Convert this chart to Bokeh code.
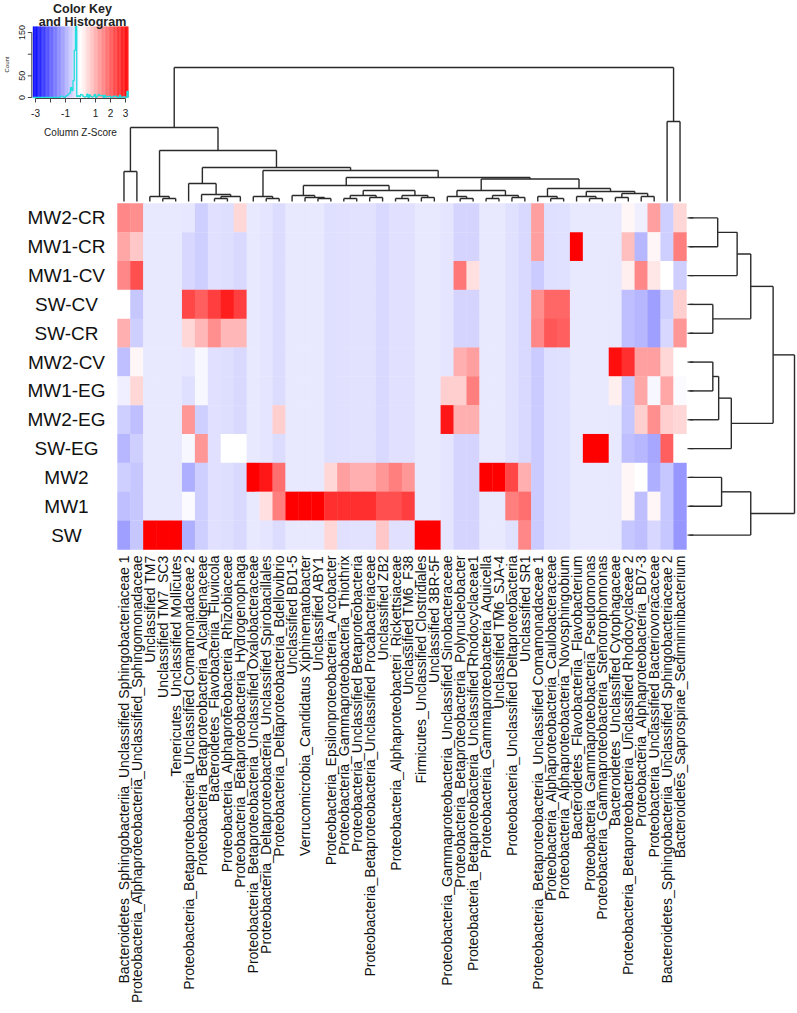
import numpy as np
from bokeh.plotting import figure
from bokeh.models import Range1d
from bokeh.embed import file_html
from bokeh.resources import INLINE
from bokeh.core.properties import value

# ---------------- data ----------------
samples = ["MW2-CR", "MW1-CR", "MW1-CV", "SW-CV", "SW-CR", "MW2-CV",
           "MW1-EG", "MW2-EG", "SW-EG", "MW2", "MW1", "SW"]

taxa = [
    "Bacteroidetes_Sphingobacteriia_Unclassified Sphingobacteriaceae 1",
    "Proteobacteria_Alphaproteobacteria_Unclassified_Sphingomonadaceae",
    "Unclassified TM7",
    "Unclassified TM7_SC3",
    "Tenericutes_Unclassified Mollicutes",
    "Proteobacteria_Betaproteobacteria_Unclassified Comamonadaceae 2",
    "Proteobacteria_Betaproteobacteria_Alcaligenaceae",
    "Bacteroidetes_Flavobacteriia_Fluviicola",
    "Proteobacteria_Alphaproteobacteria_Rhizobiaceae",
    "Proteobacteria_Betaproteobacteria_Hydrogenophaga",
    "Proteobacteria_Betaproteobacteria_Unclassified Oxalobacteraceae",
    "Proteobacteria_Deltaproteobacteria_Unclassified Spirobacillales",
    "Proteobacteria_Deltaproteobacteria_Bdellovibrio",
    "Unclassified BD1-5",
    "Verrucomicrobia_Candidatus Xiphinematobacter",
    "Unclassified ABY1",
    "Proteobacteria_Epsilonproteobacteria_Arcobacter",
    "Proteobacteria_Gammaproteobacteria_Thiothrix",
    "Proteobacteria_Unclassified Betaproteobacteria",
    "Proteobacteria_Betaproteobacteria_Unclassified Procabacteriaceae",
    "Unclassified ZB2",
    "Proteobacteria_Alphaproteobacteri_Rickettsiaceae",
    "Unclassified TM6_F38",
    "Firmicutes_Unclassified Clostridiales",
    "Unclassified 3BR-5F",
    "Proteobacteria_Gammaproteobacteria_Unclassified Sinobacteraceae",
    "Proteobacteria_Betaproteobacteria_Polynucleobacter",
    "Proteobacteria_Betaproteobacteria_Unclassified Rhodocyclaceae1",
    "Proteobacteria_Gammaproteobacteria_Aquicella",
    "Unclassified TM6_SJA-4",
    "Proteobacteria_Unclassified Deltaproteobacteria",
    "Unclassified SR1",
    "Proteobacteria_Betaproteobacteria_Unclassified Comamonadaceae 1",
    "Proteobacteria_Alphaproteobacteria_Caulobacteraceae",
    "Proteobacteria_Alphaproteobacteria_Novosphingobium",
    "Bacteroidetes_Flavobacteriia_Flavobacterium",
    "Proteobacteria_Gammaproteobacteria_Pseudomonas",
    "Proteobacteria_Gammaproteobacteria_Stenotrophomonas",
    "Bacteroidetes_Unclassified Cytophagaceae",
    "Proteobacteria_Betaproteobacteria_Unclassified Rhodocyclaceae 2",
    "Proteobacteria_Alphaproteobacteria_BD7-3",
    "Proteobacteria_Unclassified Bacteriovoracaceae",
    "Bacteroidetes_Sphingobacteriia_Unclassified Sphingobacteriaceae 2",
    "Bacteroidetes_Saprospirae_Sedimininibacterium",
]

# column z-scores, one list per sample row (44 taxa each)
z_MW2_CR = [1.5, 1.4, -0.29, -0.29, -0.29, -0.3, -0.6, -0.38, -0.41, 0.5, -0.29, -0.33, -0.44, -0.29, -0.29, -0.29, -0.4, -0.38, -0.36, -0.36, -0.47, -0.38, -0.37, -0.29, -0.29, -0.32, -0.54, -0.53, -0.29, -0.29, -0.39, -0.48, 1.2, -0.4, -0.39, -0.29, -0.29, -0.29, -0.29, 0.1, -0.2, 1.2, -0.6, 0.5]
z_MW1_CR = [1.1, 0.7, -0.29, -0.29, -0.29, -0.5, -0.6, -0.38, -0.41, -0.47, -0.29, -0.33, -0.44, -0.29, -0.29, -0.29, -0.4, -0.38, -0.36, -0.36, -0.47, -0.38, -0.37, -0.29, -0.29, -0.32, -0.54, -0.53, -0.29, -0.29, -0.39, -0.48, 1.2, -0.4, -0.39, 3.18, -0.29, -0.29, -0.29, 0.8, -0.9, 0.1, -0.6, 1.6]
z_MW1_CV = [1.5, 2.2, -0.29, -0.29, -0.29, -0.5, -0.6, -0.38, -0.41, -0.47, -0.29, -0.33, -0.44, -0.29, -0.29, -0.29, -0.4, -0.38, -0.36, -0.36, -0.47, -0.38, -0.37, -0.29, -0.29, -0.32, 1.7, 0.4, -0.29, -0.29, -0.39, -0.48, -0.65, -0.4, -0.39, -0.29, -0.29, -0.29, -0.29, 0.2, 1.5, 0.3, 0.0, -0.6]
z_SW_CV = [0.0, -0.7, -0.29, -0.29, -0.29, 2.3, 2.0, 2.4, 2.8, 2.4, -0.29, -0.33, -0.44, -0.29, -0.29, -0.29, -0.4, -0.38, -0.36, -0.36, -0.47, -0.38, -0.37, -0.29, -0.29, -0.32, -0.54, -0.53, -0.29, -0.29, -0.39, -0.48, 1.4, 1.9, 1.9, -0.29, -0.29, -0.29, -0.29, -0.8, -0.9, -1.2, -0.6, 0.6]
z_SW_CR = [1.0, -0.6, -0.29, -0.29, -0.29, 0.5, 0.9, 1.4, 0.9, 0.9, -0.29, -0.33, -0.44, -0.29, -0.29, -0.29, -0.4, -0.38, -0.36, -0.36, -0.47, -0.38, -0.37, -0.29, -0.29, -0.32, -0.54, -0.53, -0.29, -0.29, -0.39, -0.48, 1.5, 2.1, 2.0, -0.29, -0.29, -0.29, -0.29, -0.8, -0.9, -1.2, -0.5, 1.3]
z_MW2_CV = [-0.8, 0.1, -0.29, -0.29, -0.29, -0.3, -0.1, -0.38, -0.41, -0.47, -0.29, -0.33, -0.44, -0.29, -0.29, -0.29, -0.4, -0.38, -0.36, -0.36, -0.47, -0.38, -0.37, -0.29, -0.29, -0.32, 1.0, 1.2, -0.29, -0.29, -0.39, -0.48, -0.65, -0.4, -0.39, -0.29, -0.29, -0.29, 3.0, 2.6, 1.2, 1.2, 0.5, 0.0]
z_MW1_EG = [-0.2, 0.5, -0.29, -0.29, -0.29, -0.4, -0.1, -0.38, -0.41, -0.47, -0.29, -0.33, -0.44, -0.29, -0.29, -0.29, -0.4, -0.38, -0.36, -0.36, -0.47, -0.38, -0.37, -0.29, -0.29, 0.6, 0.6, 1.6, -0.29, -0.29, -0.39, -0.48, -0.65, -0.4, -0.39, -0.29, -0.29, -0.29, 0.2, -0.7, 1.1, -0.1, 1.1, -0.05]
z_MW2_EG = [-0.6, -0.8, -0.29, -0.29, -0.29, 1.3, -0.6, -0.38, -0.41, -0.47, -0.29, -0.33, 0.6, -0.29, -0.29, -0.29, -0.4, -0.38, -0.36, -0.36, -0.47, -0.38, -0.37, -0.29, -0.29, 2.9, 1.0, 1.0, -0.29, -0.29, -0.39, -0.48, -0.65, -0.4, -0.39, -0.29, -0.29, -0.29, -0.29, -0.7, 0.6, 1.4, 0.6, 0.5]
z_SW_EG = [-0.9, -0.6, -0.29, -0.29, -0.29, -0.1, 1.3, -0.38, 0.0, 0.0, -0.29, -0.33, -0.44, -0.29, -0.29, -0.29, -0.4, -0.38, -0.36, -0.36, -0.47, -0.38, -0.37, -0.29, -0.29, -0.32, -0.54, -0.53, -0.29, -0.29, -0.39, -0.48, -0.65, -0.4, -0.39, -0.29, 3.18, 3.18, -0.29, -0.8, -0.9, -1.1, 2.0, 0.0]
z_MW2 = [-0.6, -0.7, -0.29, -0.29, -0.29, -1.0, -0.6, -0.38, -0.41, -0.47, 3.18, 2.9, 1.8, -0.29, -0.29, -0.29, 0.5, 1.2, 1.0, 1.0, 1.3, 1.6, 1.3, -0.29, -0.29, -0.32, -0.54, -0.53, 3.18, 3.18, 2.3, 1.0, -0.65, -0.4, -0.39, -0.29, -0.29, -0.29, -0.29, 0.1, 0.0, -1.0, -0.7, -1.3]
z_MW1 = [-0.8, -0.7, -0.29, -0.29, -0.29, -0.05, -0.6, -0.38, -0.41, -0.47, -0.29, 0.4, 1.6, 3.18, 3.18, 3.18, 2.6, 2.6, 2.6, 2.6, 2.2, 2.2, 2.4, -0.29, -0.29, -0.32, -0.54, -0.53, -0.29, -0.29, 1.6, 1.8, -0.65, -0.4, -0.39, -0.29, -0.29, -0.29, -0.29, 0.1, -0.8, 0.1, -0.7, -1.3]
z_SW = [-1.2, -0.7, 3.18, 3.18, 3.18, -1.0, -0.6, -0.38, -0.41, -0.47, -0.29, -0.33, -0.44, -0.29, -0.29, -0.29, 0.5, -0.38, -0.36, -0.36, 0.7, -0.38, -0.37, 3.18, 3.18, -0.32, -0.54, -0.53, -0.29, -0.29, -0.39, 1.5, -0.65, -0.4, -0.39, -0.29, -0.29, -0.29, -0.29, -0.7, -0.8, -0.5, -0.7, -1.3]

# row dendrogram: R-style merges (negative = leaf index+1), heights
row_merges = [(-1, -2), (1, -3), (-4, -5), (2, 3), (-6, -7), (5, -8), (6, -9),
              (4, 7), (-10, -11), (9, -12), (8, 10)]
row_heights = [29, 49, 24, 63, 24, 30, 43, 86, 33, 63, 108]

# column dendrogram
col_merges = [
    (-1, -2),     # 1
    (-4, -5),     # 2
    (-3, 2),      # 3
    (-8, -9),     # 4
    (4, -10),     # 5
    (-7, 5),      # 6
    (-6, 6),      # 7
    (-12, -13),   # 8
    (-11, 8),     # 9
    (-16, -17),   # 10
    (-15, 10),    # 11
    (-14, 11),    # 12
    (-18, -19),   # 13
    (-20, -21),   # 14
    (13, 14),     # 15
    (-22, -23),   # 16
    (-24, -25),   # 17
    (16, 17),     # 18
    (15, 18),     # 19
    (12, 19),     # 20
    (-27, -28),   # 21
    (-26, 21),    # 22
    (-29, -30),   # 23
    (-31, -32),   # 24
    (23, 24),     # 25
    (22, 25),     # 26
    (-34, -35),   # 27
    (-33, 27),    # 28
    (-37, -38),   # 29
    (-36, 29),    # 30
    (-39, -40),   # 31
    (-41, -42),   # 32
    (31, 32),     # 33
    (30, 33),     # 34
    (28, 34),     # 35
    (26, 35),     # 36
    (20, 36),     # 37
    (9, 37),      # 38
    (7, 38),      # 39
    (3, 39),      # 40
    (1, 40),      # 41
    (-43, -44),   # 42
    (41, 42),     # 43
]
col_heights = [30, 3, 5, 3, 5, 7, 18, 3, 5, 3, 4, 6, 3, 4, 6, 3, 4, 6, 11, 16,
               3, 5, 3, 4, 6, 11, 3, 5, 3, 5, 4, 5, 8, 10, 13, 22.5, 24, 31, 34,
               51, 74, 80, 134]

key_ticks = [-3, -2, -1, 0, 1, 2, 3]
key_tick_labels = ["-3", "", "-1", "", "1", "2", "3"]
count_ticks = [0, 50, 100, 150]
count_tick_labels = ["0", "50", "", "150"]

# ---------------- helpers ----------------
Z = np.array([z_MW2_CR, z_MW1_CR, z_MW1_CV, z_SW_CV, z_SW_CR, z_MW2_CV,
              z_MW1_EG, z_MW2_EG, z_SW_EG, z_MW2, z_MW1, z_SW])
ZMAX = 3.18


def zcolor(z):
    t = max(-1.0, min(1.0, z / ZMAX))
    if t < 0:
        c = int(round(255 * (1 + t)))
        return "#%02x%02x%02x" % (c, c, 255)
    c = int(round(255 * (1 - t)))
    return "#%02x%02x%02x" % (255, c, c)


def dendro(merges, heights, leaf_pos):
    pos, hh, segs = {}, {}, []
    for k, (a, b) in enumerate(merges):
        def get(c):
            if c < 0:
                return leaf_pos[-c - 1], 0.0
            return pos[c], hh[c]
        pa, ha = get(a)
        pb, hb = get(b)
        h = heights[k]
        segs += [(pa, ha, pa, h), (pb, hb, pb, h), (pa, h, pb, h)]
        pos[k + 1] = (pa + pb) / 2.0
        hh[k + 1] = h
    return segs


FONT = value("Liberation Sans")

# ---------------- figure (screen-pixel scales) ----------------
W, H = 797, 1010
p = figure(width=W, height=H, x_range=Range1d(0, W), y_range=Range1d(H, 0),
           output_backend="svg", toolbar_location=None, min_border=0)
p.axis.visible = False
p.grid.visible = False
p.outline_line_color = None

# heatmap geometry
HX0, HX1, HY0, HY1 = 117.0, 686.0, 203.0, 549.0
nr, nc = Z.shape
cw = (HX1 - HX0) / nc
rh = (HY1 - HY0) / nr
col_x = [HX0 + (j + 0.5) * cw for j in range(nc)]
row_y = [HY0 + (i + 0.5) * rh for i in range(nr)]

xs, ys, cols = [], [], []
for i in range(nr):
    for j in range(nc):
        xs.append(col_x[j])
        ys.append(row_y[i])
        cols.append(zcolor(Z[i, j]))
p.rect(x=xs, y=ys, width=cw + 0.4, height=rh + 0.4, fill_color=cols, line_color=None)

# row labels (left, centered)
p.text(x=[66] * nr, y=row_y, text=samples, text_align="center", text_baseline="middle",
       text_font=FONT, text_font_size="19px", text_color="#111111")

# column labels (vertical, below)
p.text(x=col_x, y=[555] * nc, text=taxa, angle=np.pi / 2, text_align="right",
       text_baseline="middle", text_font=FONT, text_font_size="14px", text_color="#111111")

# right-side ticks
p.segment(x0=[HX1 + 1] * nr, y0=row_y, x1=[HX1 + 7] * nr, y1=row_y, line_color="#333333", line_width=1.2)

# row dendrogram
RX0, RX1 = 689.0, 794.0
rs = dendro(row_merges, row_heights, row_y)
rsc = (RX1 - RX0) / max(row_heights)
p.segment(x0=[RX0 + s[1] * rsc for s in rs], y0=[s[0] for s in rs],
          x1=[RX0 + s[3] * rsc for s in rs], y1=[s[2] for s in rs],
          line_color="#2a2a2a", line_width=1.4)

# column dendrogram
CY0, CY1 = 201.0, 67.0
cs = dendro(col_merges, col_heights, col_x)
csc = (CY0 - CY1) / max(col_heights)
p.segment(x0=[s[0] for s in cs], y0=[CY0 - s[1] * csc for s in cs],
          x1=[s[2] for s in cs], y1=[CY0 - s[3] * csc for s in cs],
          line_color="#2a2a2a", line_width=1.4)

# ---------------- color key + histogram ----------------
KX0, KX1 = 32.3, 127.7
KY0, KYT = 97.0, 26.0
kpx = (KX1 - KX0) / (2 * ZMAX)
cpx = 0.433  # px per count


def kx(z):
    return KX0 + (z + ZMAX) * kpx


nb = 120
br = np.linspace(-ZMAX, ZMAX, nb + 1)
p.quad(left=[kx(b) for b in br[:-1]], right=[kx(b) + kpx * (br[1] - br[0]) + 0.3 for b in br[:-1]],
       top=[KYT] * nb, bottom=[KY0] * nb,
       fill_color=[zcolor((a + b) / 2) for a, b in zip(br[:-1], br[1:])], line_color=None)

hb = np.linspace(-ZMAX, ZMAX, 77)
counts, _ = np.histogram(Z.ravel(), bins=hb)
hx, hy = [kx(hb[0])], [KY0]
for k, c in enumerate(counts):
    yv = max(KYT, KY0 - c * cpx)
    hx += [kx(hb[k]), kx(hb[k + 1])]
    hy += [yv, yv]
hx.append(kx(hb[-1]))
hy.append(KY0)
p.line(hx, hy, line_color="#22dede", line_width=1.3)

# key axes
p.segment(x0=[kx(key_ticks[0])], y0=[KY0 + 1], x1=[kx(key_ticks[-1])], y1=[KY0 + 1], line_color="#444444")
p.segment(x0=[kx(t) for t in key_ticks], y0=[KY0 + 1] * len(key_ticks),
          x1=[kx(t) for t in key_ticks], y1=[KY0 + 5] * len(key_ticks), line_color="#444444")
p.text(x=[kx(t) for t in key_ticks], y=[KY0 + 15] * len(key_ticks), text=key_tick_labels,
       text_align="center", text_baseline="middle", text_font=FONT, text_font_size="10px",
       text_color="#222222")
p.segment(x0=[KX0 - 1], y0=[KY0 - count_ticks[0] * cpx], x1=[KX0 - 1], y1=[KY0 - count_ticks[-1] * cpx],
          line_color="#444444")
p.segment(x0=[KX0 - 1] * 4, y0=[KY0 - t * cpx for t in count_ticks],
          x1=[KX0 - 5] * 4, y1=[KY0 - t * cpx for t in count_ticks], line_color="#444444")
p.text(x=[21] * 4, y=[KY0 - t * cpx for t in count_ticks], text=count_tick_labels, angle=np.pi / 2,
       text_align="center", text_baseline="middle", text_font=FONT, text_font_size="9px",
       text_color="#222222")
p.text(x=[6], y=[64], text=["Count"], angle=np.pi / 2, text_align="center", text_baseline="middle",
       text_font=FONT, text_font_size="6px", text_color="#222222")
p.text(x=[80], y=[132], text=["Column Z-Score"], text_align="center", text_baseline="middle",
       text_font=FONT, text_font_size="10px", text_color="#222222")
p.text(x=[82, 82], y=[8, 21], text=["Color Key", "and Histogram"], text_align="center",
       text_baseline="middle", text_font=FONT, text_font_size="12.5px", text_font_style="bold",
       text_color="#222222")

open("out.html", "w").write(file_html(p, INLINE))
